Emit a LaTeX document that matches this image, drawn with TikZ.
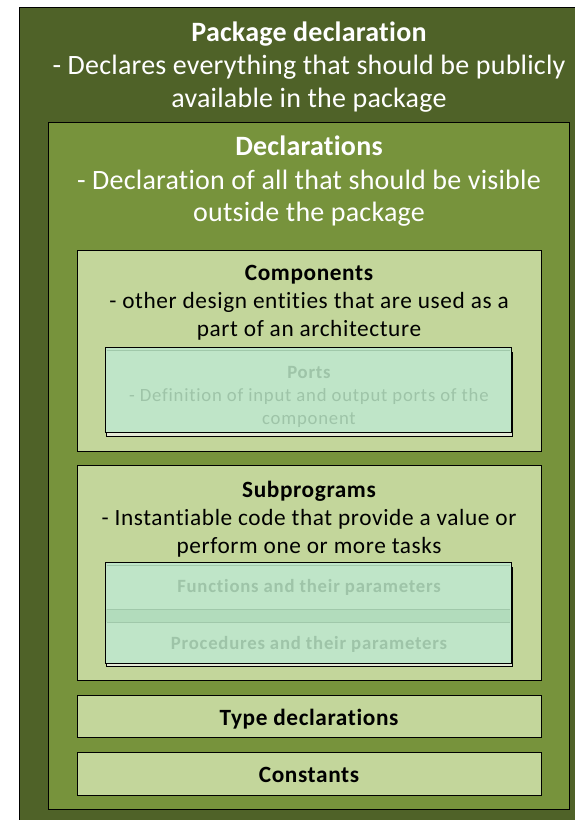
\documentclass[tikz,border=0pt]{standalone}
\usepackage{fontspec}
\setmainfont{Carlito}[Ligatures=NoCommon]
\usetikzlibrary{positioning}
\definecolor{verdeScuro}{RGB}{79,98,40}
\definecolor{verdeMedio}{RGB}{119,147,60}
\definecolor{verdeChiaro}{RGB}{195,214,155}
\definecolor{menta}{RGB}{191,229,200}
\definecolor{mentaScura}{RGB}{178,220,188}
\definecolor{mentaBordo}{RGB}{160,200,170}
\definecolor{crema}{RGB}{228,234,214}
\definecolor{testoSbiadito}{RGB}{158,196,168}
\newcommand{\fGrande}{\fontsize{28}{34}\selectfont\addfontfeature{LetterSpace=0.8}}
\newcommand{\fMedio}{\fontsize{23.3}{28}\selectfont\addfontfeature{LetterSpace=2.6}}
\newcommand{\fPiccolo}{\fontsize{18.7}{23}\selectfont\addfontfeature{LetterSpace=4.2}}
\tikzset{
  scatola/.style={draw=black, line width=0.9pt},
  testo/.style={anchor=base, inner sep=0pt},
}
\begin{document}
\begin{tikzpicture}[x=1pt, y=-1pt]
    % Parametri
    \pgfmathsetmacro{\xc}{309}
    % Area
    \useasboundingbox (0,0) rectangle (575,820);
    \clip (0,0) rectangle (575,820);
    \fill[white] (0,0) rectangle (575,820);
    % Package declaration
    \draw[scatola, fill=verdeScuro] (19,7) rectangle (600,840);
    \node[testo, font=\fGrande\bfseries, white] (pkgTitolo) at (\xc,41) {Package declaration};
    \node[testo, font=\fGrande, white] (pkgRiga1) at (\xc,74) {- Declares everything that should be publicly};
    \node[testo, font=\fGrande, white] (pkgRiga2) at (\xc,107) {available in the package};
    % Declarations
    \draw[scatola, fill=verdeMedio] (48,122) rectangle (569,809);
    \node[testo, font=\fGrande\bfseries, white] (decTitolo) at (\xc,155) {Declarations};
    \node[testo, font=\fGrande, white] (decRiga1) at (\xc,189) {- Declaration of all that should be visible};
    \node[testo, font=\fGrande, white] (decRiga2) at (\xc,221) {outside the package};
    % Components
    \draw[scatola, fill=verdeChiaro] (77,250) rectangle (541,451);
    \node[testo, font=\fMedio\bfseries] (compTitolo) at (\xc,280) {Components};
    \node[testo, font=\fMedio] (compRiga1) at (\xc,308) {- other design entities that are used as a};
    \node[testo, font=\fMedio] (compRiga2) at (\xc,336) {part of an architecture};
    % Ports
    \draw[scatola, fill=crema] (106,352) rectangle (512,436);
    \draw[scatola, fill=menta] (105,347) rectangle (511,432);
    \draw[mentaBordo, line width=0.6pt] (106.5,350) -- (509.5,350);
    \node[testo, font=\fPiccolo\bfseries, testoSbiadito] (portTitolo) at (\xc,378) {Ports};
    \node[testo, font=\fPiccolo, testoSbiadito] (portRiga1) at (\xc,401) {- Definition of input and output ports of the};
    \node[testo, font=\fPiccolo, testoSbiadito] (portRiga2) at (\xc,424) {component};
    % Subprograms
    \draw[scatola, fill=verdeChiaro] (77,465) rectangle (541,680);
    \node[testo, font=\fMedio\bfseries] (subTitolo) at (\xc,497) {Subprograms};
    \node[testo, font=\fMedio] (subRiga1) at (\xc,525) {- Instantiable code that provide a value or};
    \node[testo, font=\fMedio] (subRiga2) at (\xc,553) {perform one or more tasks};
    % Functions e procedures
    \draw[scatola, fill=crema] (106,567) rectangle (512,666);
    \draw[scatola, fill=menta] (105,562) rectangle (511,663);
    \fill[mentaScura] (106,609) rectangle (510,622);
    \foreach \yy in {565,609,622}
        \draw[mentaBordo, line width=0.6pt] (106.5,\yy) -- (509.5,\yy);
    \node[testo, font=\fPiccolo\bfseries, testoSbiadito] (funTitolo) at (\xc,592) {Functions and their parameters};
    \node[testo, font=\fPiccolo\bfseries, testoSbiadito] (procTitolo) at (\xc,649) {Procedures and their parameters};
    % Type declarations e constants
    \draw[scatola, fill=verdeChiaro] (77,695) rectangle (541,737);
    \node[testo, font=\fMedio\bfseries] (typeTitolo) at (\xc,725) {Type declarations};
    \draw[scatola, fill=verdeChiaro] (77,752) rectangle (541,795);
    \node[testo, font=\fMedio\bfseries] (constTitolo) at (\xc,782) {Constants};
\end{tikzpicture}
\end{document}
